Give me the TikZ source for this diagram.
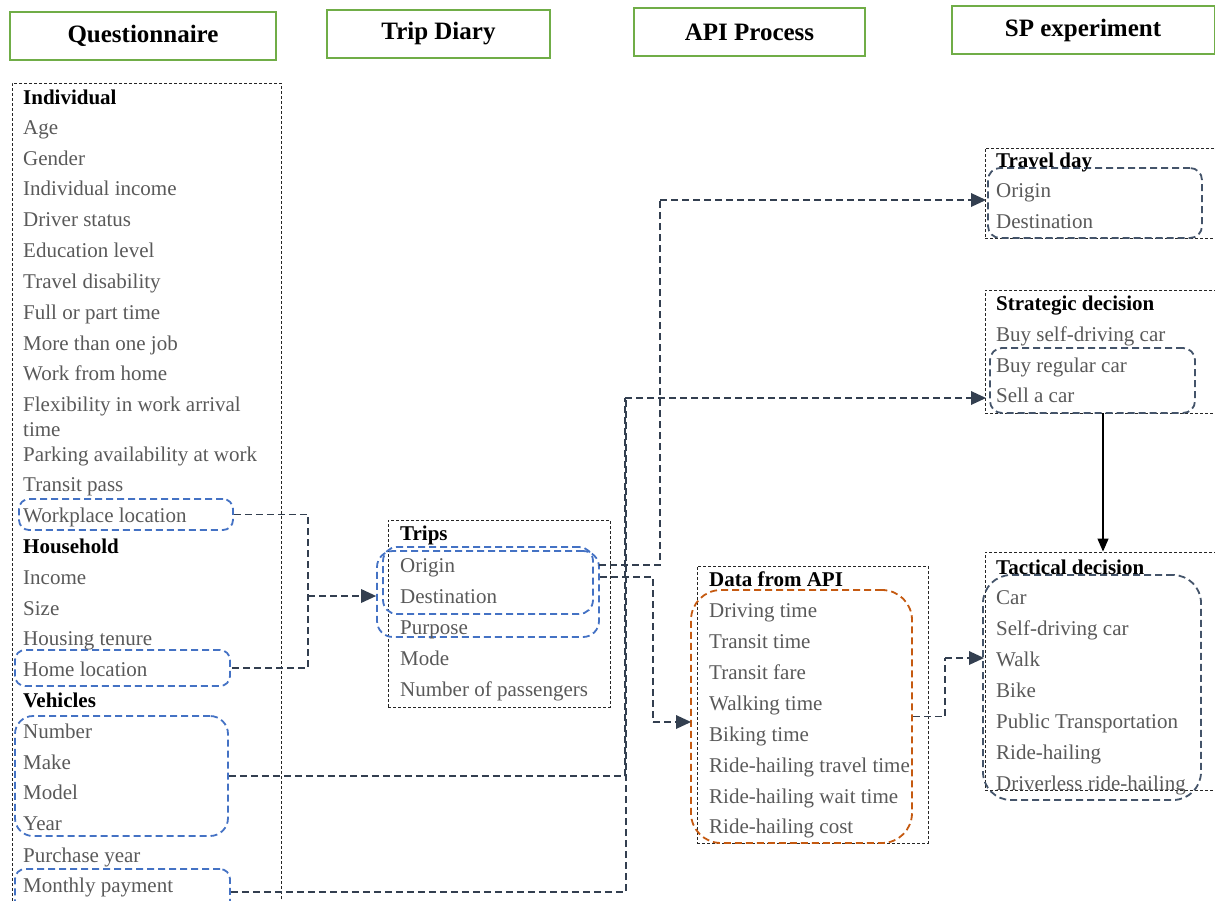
\documentclass[tikz,border=0pt]{standalone}
\usepackage{fontspec}
\setmainfont{Liberation Serif}
\usetikzlibrary{arrows.meta,fit}
\definecolor{titlegreen}{HTML}{70AD47}
\definecolor{grpblue}{HTML}{4472C4}
\definecolor{grporange}{HTML}{C55A11}
\definecolor{grpslate}{HTML}{44546A}
\definecolor{linkslate}{HTML}{333F50}
\definecolor{itemgray}{HTML}{595959}
\begin{document}
\begin{tikzpicture}[x=1pt,y=-1pt,
  item/.style={anchor=base west, inner sep=0pt, font=\fontsize{21}{25}\selectfont, text=itemgray},
  head/.style={anchor=base west, inner sep=0pt, font=\fontsize{21}{25}\selectfont\bfseries, text=black},
  titlebox/.style={draw=titlegreen, line width=2pt, fill=white, inner sep=0pt,
    font=\fontsize{25}{30}\selectfont\bfseries},
  container/.style={draw=black!85, line width=0.9pt, dash pattern=on 3pt off 2pt, inner sep=0pt},
  bluegrp/.style={draw=grpblue, line width=1.8pt, dash pattern=on 7pt off 4pt, rounded corners=10pt, inner sep=0pt},
  orangegrp/.style={draw=grporange, line width=1.8pt, dash pattern=on 7pt off 4pt, rounded corners=30pt, inner sep=0pt},
  slategrp/.style={draw=grpslate, line width=1.8pt, dash pattern=on 7pt off 4pt, rounded corners=#1, inner sep=0pt},
  slategrp/.default=12pt,
  link/.style={draw=linkslate, line width=1.9pt, dash pattern=on 7pt off 4pt},
  linkarrow/.style={link, -{Triangle[length=15pt,width=14pt,line width=0pt]}},
  solidarrow/.style={draw=black, line width=1.3pt, -{Triangle[length=13pt,width=11pt]}}
]
\useasboundingbox (0,0) rectangle (1215,900);

% column titles
\node[titlebox, minimum width=266pt, minimum height=48pt] (tq) at (143,36) {Questionnaire};
\node[titlebox, minimum width=223pt, minimum height=48pt] (tt) at (438.5,34) {Trip Diary};
\node[titlebox, minimum width=231pt, minimum height=48pt] (ta) at (749.5,32) {API Process};
\node[titlebox, minimum width=263pt, minimum height=48pt] (ts) at (1083,30) {SP experiment};

% dotted containers
\node[container, fit={(12,83) (281,910)}] (qbox) {};
\node[container, fit={(388,520) (610,707)}] (tripbox) {};
\node[container, fit={(697,566) (928,843)}] (apibox) {};
\node[container, fit={(985,148) (1222,238)}] (daybox) {};
\node[container, fit={(985,290) (1222,413)}] (stratbox) {};
\node[container, fit={(985,552) (1222,790)}] (tactbox) {};

% highlighted groups
\node[bluegrp, fit={(19,499) (233,530)}] (wp) {};
\node[bluegrp, fit={(15,650) (230,686)}] (home) {};
\node[bluegrp, rounded corners=18pt, fit={(15,716) (228,836)}] (veh) {};
\node[bluegrp, fit={(15,869) (230,915)}] (pay) {};
\node[bluegrp, rounded corners=14pt, fit={(383,547) (593,614)}] (odin) {};
\node[bluegrp, rounded corners=16pt, fit={(377,551) (599,637)}] (odout) {};
\node[orangegrp, fit={(691,590) (912,843)}] (apigrp) {};
\node[slategrp=12pt, fit={(988,168) (1202,238)}] (daygrp) {};
\node[slategrp=12pt, fit={(990,348) (1195,413)}] (stratgrp) {};
\node[slategrp=28pt, fit={(983,575) (1201,800)}] (tactgrp) {};

% questionnaire items
\node[head] (qh1) at (23,104) {Individual};
\node[item] (q1) at (23,134) {Age};
\node[item] (q2) at (23,165) {Gender};
\node[item] (q3) at (23,195) {Individual income};
\node[item] (q4) at (23,226) {Driver status};
\node[item] (q5) at (23,257) {Education level};
\node[item] (q6) at (23,288) {Travel disability};
\node[item] (q7) at (23,319) {Full or part time};
\node[item] (q8) at (23,350) {More than one job};
\node[item] (q9) at (23,380) {Work from home};
\node[item] (q10) at (23,411) {Flexibility in work arrival};
\node[item] (q10b) at (23,436) {time};
\node[item] (q11) at (23,461) {Parking availability at work};
\node[item] (q12) at (23,491) {Transit pass};
\node[item] (q13) at (23,522) {Workplace location};
\node[head] (qh2) at (23,553) {Household};
\node[item] (q14) at (23,584) {Income};
\node[item] (q15) at (23,615) {Size};
\node[item] (q16) at (23,645) {Housing tenure};
\node[item] (q17) at (23,676) {Home location};
\node[head] (qh3) at (23,707) {Vehicles};
\node[item] (q18) at (23,738) {Number};
\node[item] (q19) at (23,769) {Make};
\node[item] (q20) at (23,799) {Model};
\node[item] (q21) at (23,830) {Year};
\node[item] (q22) at (23,862) {Purchase year};
\node[item] (q23) at (23,892) {Monthly payment};

% trip diary items
\node[head] (th) at (400,540) {Trips};
\node[item] (t1) at (400,572) {Origin};
\node[item] (t2) at (400,603) {Destination};
\node[item] (t3) at (400,634) {Purpose};
\node[item] (t4) at (400,665) {Mode};
\node[item] (t5) at (400,696) {Number of passengers};

% API items
\node[head] (ah) at (709,586) {Data from API};
\node[item] (a1) at (709,617) {Driving time};
\node[item] (a2) at (709,648) {Transit time};
\node[item] (a3) at (709,679) {Transit fare};
\node[item] (a4) at (709,710) {Walking time};
\node[item] (a5) at (709,741) {Biking time};
\node[item] (a6) at (709,772) {Ride-hailing travel time};
\node[item] (a7) at (709,803) {Ride-hailing wait time};
\node[item] (a8) at (709,833) {Ride-hailing cost};

% SP experiment items
\node[head] (sh1) at (996,167) {Travel day};
\node[item] (s1) at (996,197) {Origin};
\node[item] (s2) at (996,228) {Destination};
\node[head] (sh2) at (996,310) {Strategic decision};
\node[item] (s3) at (996,341) {Buy self-driving car};
\node[item] (s4) at (996,372) {Buy regular car};
\node[item] (s5) at (996,402) {Sell a car};
\node[head] (sh3) at (996,574) {Tactical decision};
\node[item] (s6) at (996,604) {Car};
\node[item] (s7) at (996,635) {Self-driving car};
\node[item] (s8) at (996,666) {Walk};
\node[item] (s9) at (996,697) {Bike};
\node[item] (s10) at (996,728) {Public Transportation};
\node[item] (s11) at (996,759) {Ride-hailing};
\node[item] (s12) at (996,790) {Driverless ride-hailing};

% bends and free ends of the connectors
\coordinate (hj) at (308,596);
\coordinate (vrail) at (625,398);
\coordinate (sellin) at (986,398);
\coordinate (o1) at (599,565);
\coordinate (o2) at (600,577);
\coordinate (drail) at (660,200);
\coordinate (dayin) at (986,200);
\coordinate (arail) at (653,722);
\coordinate (apiin) at (691,722);
\coordinate (trail) at (945,658);
\coordinate (tactin) at (984,658);

% connectors
\draw[link] (wp.east) -| (hj) |- (home.east);
\draw[linkarrow] (hj) -- (odout.west |- hj);
\draw[link] (veh.east) -| (vrail);
\draw[link] (pay.east) -| ([xshift=1pt]vrail);
\draw[linkarrow] (vrail) -- (sellin);
\draw[link] (o1) -| (drail);
\draw[linkarrow] (drail) -- (dayin);
\draw[link] (o2) -| (arail);
\draw[linkarrow] (arail) -- (apiin);
\draw[link] (apigrp.east) -| (trail);
\draw[linkarrow] (trail) -- (tactin);
\draw[solidarrow] (stratbox.south -| 1103,0) -- (tactbox.north -| 1103,0);
\end{tikzpicture}
\end{document}
